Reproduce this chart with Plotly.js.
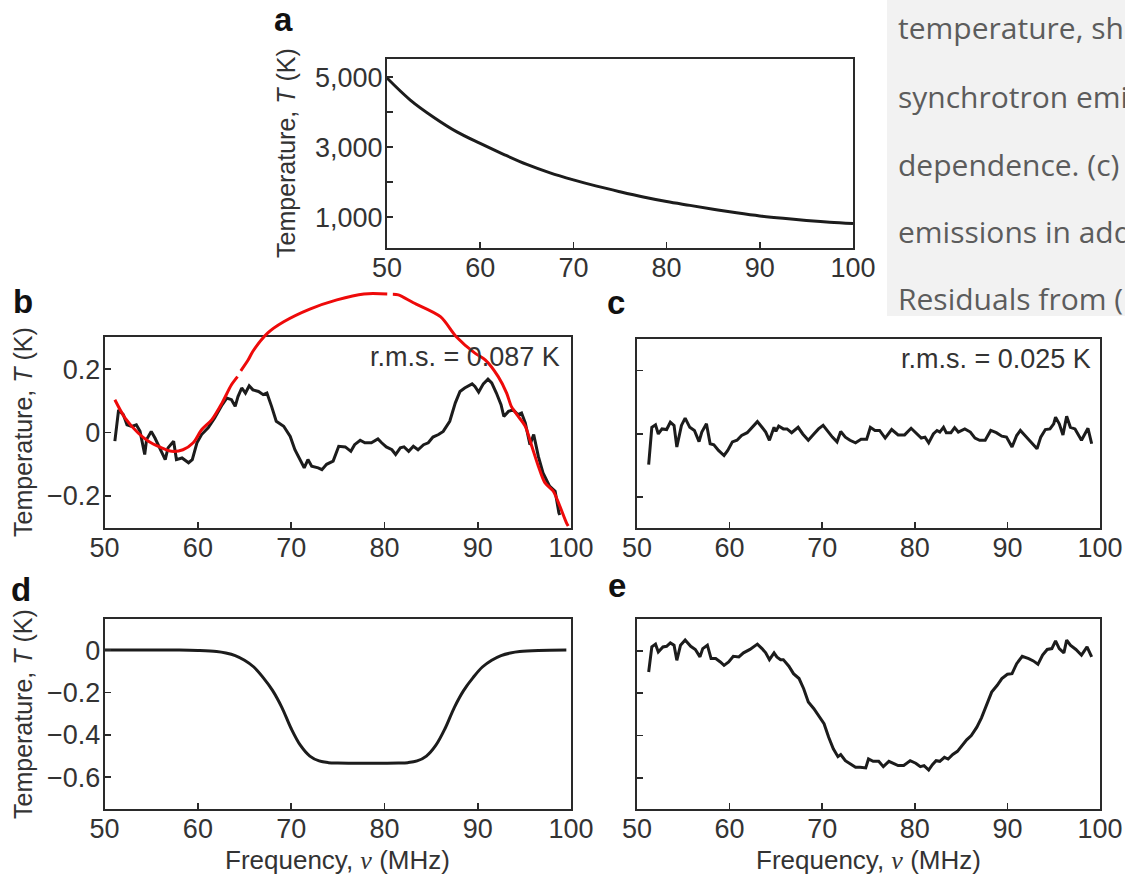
<!DOCTYPE html>
<html>
<head>
<meta charset="utf-8">
<script src="https://cdn.plot.ly/plotly-3.0.1.min.js"></script>
<style>html,body{margin:0;padding:0;background:#fff;}#chart{width:1125px;height:878px;}</style>
</head>
<body>
<div id="chart"></div>
<script>
// ---------------- data ----------------
// (a) foreground temperature
const freqA = [50, 52.5, 55, 57.5, 60, 62.5, 65, 67.5, 70, 72.5, 75, 77.5, 80, 82.5, 85, 87.5, 90, 92.5, 95, 97.5, 100];
const tempA = [4980, 4350, 3860, 3440, 3110, 2800, 2510, 2270, 2070, 1890, 1730, 1580, 1450, 1340, 1230, 1130, 1040, 970, 910, 860, 820];

// (b) residuals, foreground-only fit
const freqB = [51.1,51.5,52.0,52.4,52.9,53.4,53.8,54.3,54.5,55.0,55.4,55.9,56.5,56.8,57.4,57.7,58.3,59.0,59.4,59.9,60.4,61.1,61.8,62.6,63.1,63.6,64.0,64.3,64.7,65.1,65.5,65.9,66.5,67.0,67.4,67.9,68.4,69.2,69.9,70.4,70.9,71.4,71.8,72.2,72.9,73.3,73.8,74.5,75.1,75.8,76.4,76.8,77.4,77.9,78.6,79.3,79.7,80.2,80.8,81.2,81.7,82.1,82.6,83.1,83.6,84.2,84.7,85.2,85.8,86.3,87.0,87.6,88.1,88.6,89.4,89.7,90.1,90.6,91.1,91.5,92.0,92.5,92.8,93.3,93.8,94.3,94.7,95.1,95.6,96.0,96.5,97.0,97.7,98.3,98.7,98.8];
const resB = [-0.027,0.072,0.057,0.025,0.02,0.025,0.004,-0.069,-0.022,0.004,-0.017,-0.048,-0.085,-0.048,-0.027,-0.085,-0.08,-0.095,-0.085,-0.032,-0.006,0.015,0.046,0.088,0.109,0.104,0.083,0.114,0.141,0.125,0.148,0.135,0.13,0.12,0.125,0.083,0.036,0.02,-0.012,-0.054,-0.085,-0.111,-0.085,-0.106,-0.111,-0.117,-0.1,-0.09,-0.043,-0.045,-0.059,-0.038,-0.024,-0.032,-0.032,-0.02,-0.032,-0.045,-0.054,-0.069,-0.048,-0.045,-0.059,-0.043,-0.054,-0.038,-0.032,-0.014,-0.006,0.004,0.036,0.094,0.13,0.141,0.154,0.146,0.128,0.154,0.169,0.157,0.125,0.088,0.051,0.067,0.072,0.057,0.062,0.031,-0.038,-0.006,-0.075,-0.127,-0.169,-0.185,-0.253,-0.26];

// hand-drawn red curve over (b)
const freqRed = [51.1,52.2,53.6,54.7,55.9,57.2,58.4,59.5,60.4,61.5,62.6,63.6,64.25,null,64.6,65.4,65.9,67.5,69.2,72.0,74.9,77.8,80.3,null,80.9,81.5,83.1,86.0,87.7,89.7,90.8,92.2,93.1,93.6,94.2,95.1,95.8,96.5,97.2,98.1,98.8,99.5,99.7];
const tempRed = [0.104,0.046,-0.001,-0.027,-0.045,-0.059,-0.054,-0.032,0.009,0.041,0.094,0.151,0.177,null,0.195,0.23,0.257,0.315,0.35,0.39,0.419,0.438,0.438,null,0.437,0.435,0.41,0.366,0.303,0.251,0.23,0.177,0.125,0.083,0.057,0.02,-0.043,-0.106,-0.158,-0.185,-0.232,-0.284,-0.295];

// (c) residuals, fit including absorption profile
const freqC = [51.26,51.6,52.0,52.3,52.7,53.2,53.6,54.0,54.3,54.8,55.2,55.7,56.2,56.7,57.0,57.5,57.9,58.3,58.8,59.4,59.8,60.3,60.8,61.3,61.9,62.4,63.0,63.5,63.9,64.3,64.8,65.0,65.3,65.8,66.2,66.7,67.4,67.9,68.5,69.1,69.6,70.1,70.5,71.1,71.6,72.0,72.5,73.0,73.6,74.2,74.8,75.2,75.7,76.2,76.8,77.5,78.2,78.9,79.6,80.2,80.7,81.1,81.5,82.0,82.4,82.7,83.1,83.4,83.9,84.3,84.7,85.4,86.0,86.5,87.0,87.6,88.2,88.8,89.4,89.9,90.5,91.0,91.4,91.9,92.6,93.2,93.6,94.1,94.6,95.0,95.2,95.6,96.0,96.4,96.8,97.3,98.0,98.7,99.1];
const resC = [-0.097,0.021,0.029,0.0,0.016,0.014,0.037,0.027,-0.041,0.027,0.05,0.021,0.011,-0.024,0.006,0.032,-0.031,-0.034,-0.052,-0.068,-0.052,-0.025,-0.02,-0.005,0.004,0.021,0.039,0.021,0.006,-0.02,0.021,0.008,0.025,0.016,0.016,0.004,0.021,0.0,-0.02,0.0,0.016,0.027,0.011,-0.01,-0.025,0.008,-0.01,-0.02,-0.028,-0.017,-0.017,0.021,0.011,0.011,-0.013,0.014,-0.003,-0.003,0.018,0.0,-0.013,-0.01,-0.028,0.0,0.011,0.006,0.021,0.004,0.004,0.02,0.006,0.016,0.006,-0.013,-0.02,-0.02,0.011,0.004,-0.007,-0.01,-0.041,-0.005,0.011,-0.005,-0.028,-0.047,-0.01,0.014,0.016,0.032,0.053,0.032,-0.003,0.056,0.021,0.016,-0.02,0.018,-0.031];

// (d) best-fitting absorption profile
const freqD = [50,52,54,56,58,60,62,63,64,65,66,67,68,69,70,71,72,73,74,75,78,81.5,82.5,83.5,84.5,85.5,86.5,87.5,88.5,89.5,90.5,91.5,92.5,93.5,94.5,96.5,99.5];
const modelD = [0,0,0,0,0,-0.002,-0.007,-0.014,-0.026,-0.048,-0.08,-0.13,-0.19,-0.27,-0.37,-0.45,-0.5,-0.523,-0.531,-0.533,-0.534,-0.533,-0.531,-0.523,-0.5,-0.45,-0.37,-0.27,-0.19,-0.13,-0.08,-0.048,-0.026,-0.014,-0.007,-0.002,0];

// (e) model plus residuals
const freqE = [51.26,51.6,52.0,52.3,52.8,53.2,53.6,54.0,54.3,54.7,55.2,55.8,56.3,56.8,57.1,57.6,58.0,58.5,59.0,59.4,59.9,60.4,61.0,61.5,62.2,63.0,63.5,63.9,64.3,64.8,65.1,65.5,65.8,66.4,66.9,67.5,68.0,68.5,69.1,69.6,70.2,70.7,71.2,71.7,72.0,72.5,73.0,73.6,74.1,74.7,75.0,75.5,76.1,76.6,77.2,77.7,78.2,78.8,79.5,80.1,80.6,81.0,81.5,81.9,82.3,82.7,83.2,83.6,84.1,84.6,85.1,85.6,86.1,86.7,87.2,87.8,88.3,88.9,89.4,90.0,90.5,91.0,91.6,92.3,92.8,93.3,93.8,94.3,94.8,95.2,95.6,96.1,96.4,96.8,97.4,98.0,98.6,99.1];
const resE = [-0.1,0.018,0.031,-0.006,0.018,0.021,0.037,0.026,-0.045,0.026,0.05,0.021,0.006,-0.029,0.01,0.026,-0.037,-0.037,-0.053,-0.069,-0.053,-0.026,-0.029,-0.01,0.006,0.031,0.01,-0.01,-0.042,-0.01,-0.029,-0.042,-0.042,-0.073,-0.108,-0.131,-0.179,-0.242,-0.273,-0.305,-0.344,-0.408,-0.462,-0.499,-0.489,-0.518,-0.533,-0.549,-0.549,-0.552,-0.51,-0.521,-0.521,-0.546,-0.521,-0.53,-0.541,-0.541,-0.518,-0.53,-0.546,-0.541,-0.562,-0.537,-0.518,-0.521,-0.502,-0.51,-0.489,-0.474,-0.447,-0.42,-0.4,-0.36,-0.316,-0.25,-0.195,-0.163,-0.131,-0.111,-0.108,-0.061,-0.026,-0.037,-0.048,-0.064,-0.021,0.006,0.01,0.046,0.01,-0.01,0.05,0.026,0.006,-0.021,0.018,-0.029];

// tick labels
const freqTicks = [50, 60, 70, 80, 90, 100];
const tickValsA = [1000, 2000, 3000, 4000, 5000];
const tickTextA = ['1,000', '', '3,000', '', '5,000'];
const tickValsB = [-0.2, 0, 0.2];
const tickTextB = ['\u22120.2', '0', '0.2'];
const tickValsD = [-0.6, -0.4, -0.2, 0];
const tickTextD = ['\u22120.6', '\u22120.4', '\u22120.2', '0'];

// texts
const panelLetters = ['a', 'b', 'c', 'd', 'e'];
const rmsTexts = ['r.m.s. = 0.087 K', 'r.m.s. = 0.025 K'];
const yTitle = 'Temperature, <i>T</i> (K)';
const xTitle = 'Frequency, <span style="font-family:\'Liberation Serif\',serif"><i>\u03bd</i></span> (MHz)';
const captionLines = ['temperature, sh', 'synchrotron emi', 'dependence. (c)', 'emissions in add', 'Residuals from ('];

// ---------------- layout helpers (pixel geometry) ----------------
const W = 1125, H = 878;
const fx = p => p / W;
const fy = p => 1 - p / H;
const FONT = 'Liberation Sans, Arial, Helvetica, sans-serif';
const INK = '#2a2a2a';
const TXT = '#333333';

function axisBase(extra) {
  return Object.assign({
    showline: true, mirror: true, linecolor: INK, linewidth: 2,
    ticks: 'inside', ticklen: 6, tickwidth: 1.6, tickcolor: INK,
    showgrid: false, zeroline: false, fixedrange: true,
    tickfont: {family: FONT, size: 27, color: TXT}
  }, extra);
}
function xAxis(l, r, anchor, labels) {
  return axisBase({domain: [fx(l), fx(r)], range: [50, 100], anchor: anchor,
    tickmode: 'array', tickvals: freqTicks, showticklabels: labels, ticklabelstandoff: -6});
}

const lineStyle = {color: '#1c1c1c', width: 3};

const traces = [
  {x: freqA, y: tempA, xaxis: 'x', yaxis: 'y', mode: 'lines', line: Object.assign({shape: 'spline', smoothing: 1}, lineStyle), hoverinfo: 'skip'},
  {x: freqB, y: resB, xaxis: 'x2', yaxis: 'y2', mode: 'lines', line: lineStyle, hoverinfo: 'skip'},
  {x: freqC, y: resC, xaxis: 'x3', yaxis: 'y3', mode: 'lines', line: lineStyle, hoverinfo: 'skip'},
  {x: freqD, y: modelD, xaxis: 'x4', yaxis: 'y4', mode: 'lines', line: Object.assign({shape: 'spline', smoothing: 1}, lineStyle), hoverinfo: 'skip'},
  {x: freqE, y: resE, xaxis: 'x5', yaxis: 'y5', mode: 'lines', line: lineStyle, hoverinfo: 'skip'},
  {x: freqRed, y: tempRed, xaxis: 'x6', yaxis: 'y6', mode: 'lines', connectgaps: false,
   line: {color: '#ee0a0a', width: 3, shape: 'spline', smoothing: 0.8}, hoverinfo: 'skip'}
];

// panel b scale (px per K) used for the red overlay axis
const bTop = 337.3, bBot = 528.3, bMin = -0.302, bMax = 0.301;
const bScale = (bBot - bTop) / (bMax - bMin);
const redTop = 272;

const layout = {
  width: W, height: H,
  margin: {l: 0, r: 0, t: 0, b: 0},
  paper_bgcolor: '#ffffff', plot_bgcolor: 'rgba(0,0,0,0)',
  showlegend: false,
  font: {family: FONT, color: TXT},
  xaxis: xAxis(387, 853, 'y', true),
  yaxis: axisBase({domain: [fy(248.3), fy(59.3)], range: [114, 5514], anchor: 'x',
    tickmode: 'array', tickvals: tickValsA, ticktext: tickTextA, ticklabelstandoff: -3}),
  xaxis2: xAxis(104.6, 571, 'y2', true),
  yaxis2: axisBase({domain: [fy(bBot), fy(bTop)], range: [bMin, bMax], anchor: 'x2',
    tickmode: 'array', tickvals: tickValsB, ticktext: tickTextB, ticklabelstandoff: -3}),
  xaxis3: xAxis(637, 1100, 'y3', true),
  yaxis3: axisBase({domain: [fy(528.3), fy(339.3)], range: [-0.298, 0.299], anchor: 'x3',
    tickmode: 'array', tickvals: tickValsB, showticklabels: false}),
  xaxis4: xAxis(104.6, 571, 'y4', true),
  yaxis4: axisBase({domain: [fy(809.3), fy(619.3)], range: [-0.751, 0.145], anchor: 'x4',
    tickmode: 'array', tickvals: tickValsD, ticktext: tickTextD, ticklabelstandoff: -3}),
  xaxis5: xAxis(637, 1100, 'y5', true),
  yaxis5: axisBase({domain: [fy(809.3), fy(619.3)], range: [-0.747, 0.148], anchor: 'x5',
    tickmode: 'array', tickvals: tickValsD, showticklabels: false}),
  xaxis6: {domain: [fx(104.6), fx(571)], range: [50, 100], anchor: 'y6', visible: false, fixedrange: true},
  yaxis6: {domain: [fy(bBot), fy(redTop)], range: [bMin, bMin + (bBot - redTop) / bScale], anchor: 'x6', visible: false, fixedrange: true},
  shapes: [
    {type: 'rect', xref: 'paper', yref: 'paper', x0: fx(887), x1: 1.01, y0: fy(316), y1: 1.01,
     fillcolor: '#f2f2f2', line: {width: 0}, layer: 'below'}
  ],
  annotations: []
};

const ann = layout.annotations;
function addText(text, xpx, ypx, opts) {
  ann.push(Object.assign({text: text, xref: 'paper', yref: 'paper', x: fx(xpx), y: fy(ypx),
    xanchor: 'center', yanchor: 'middle', showarrow: false,
    font: {family: FONT, size: 25, color: TXT}}, opts || {}));
}
// panel letters
const letterPos = [[283, 19], [23, 301], [616, 302], [21, 589], [617, 585]];
panelLetters.forEach((L, i) => addText('<b>' + L + '</b>', letterPos[i][0], letterPos[i][1],
  {font: {family: FONT, size: 33, color: '#111'}}));
// axis titles
addText(yTitle, 286, 153, {textangle: -90});
addText(yTitle, 23, 432, {textangle: -90});
addText(yTitle, 23, 714, {textangle: -90});
addText(xTitle, 337, 860, {font: {family: FONT, size: 26, color: TXT}});
addText(xTitle, 868, 860, {font: {family: FONT, size: 26, color: TXT}});
// rms labels
addText(rmsTexts[0], 562, 357, {xanchor: 'right', font: {family: FONT, size: 27, color: TXT}});
addText(rmsTexts[1], 1093, 359, {xanchor: 'right', font: {family: FONT, size: 27, color: TXT}});
// caption text at right (clipped by the page edge, as in the picture)
const capY = [27, 96, 164, 231, 299];
captionLines.forEach((t, i) => addText(t, 896, capY[i],
  {xanchor: 'left', font: {family: 'Open Sans, sans-serif', size: 30, color: '#5c5c5c'}}));

Plotly.newPlot('chart', traces, layout, {staticPlot: true, displayModeBar: false});
</script>
</body>
</html>
